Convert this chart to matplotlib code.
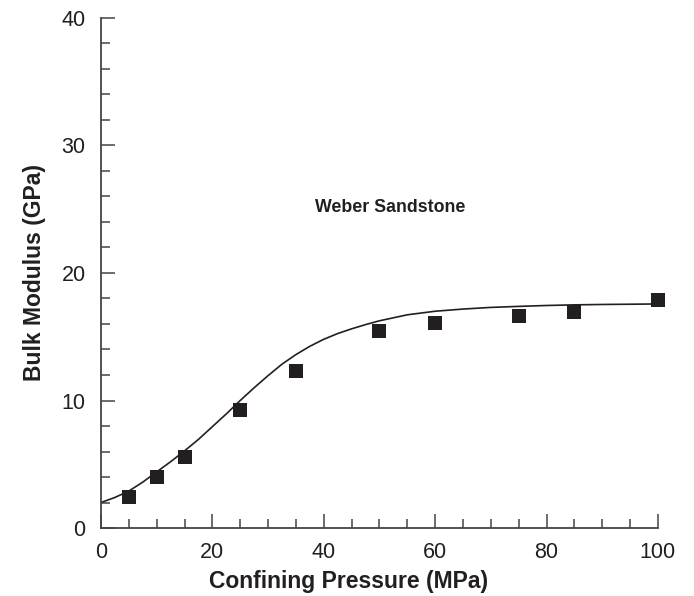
import numpy as np
import matplotlib.pyplot as plt
from matplotlib.ticker import MultipleLocator

plt.rcParams['font.family'] = ['Liberation Sans', 'DejaVu Sans']

# measured points
p_data = [5, 10, 15, 25, 35, 50, 60, 75, 85, 100]
k_data = [2.43, 4.0, 5.6, 9.25, 12.35, 15.45, 16.1, 16.6, 16.95, 17.9]

# fitted curve
p_fit = [0, 2.5, 5, 7.5, 10, 12.5, 15, 17.5, 20, 22.5, 25, 27.5, 30, 32.5, 35,
         37.5, 40, 42.5, 45, 47.5, 50, 55, 60, 65, 70, 75, 80, 85, 90, 95, 100]
k_fit = [2.0, 2.4, 2.9, 3.6, 4.4, 5.2, 6.05, 6.95, 7.95, 8.95, 10.0, 11.0, 11.95, 12.85, 13.6,
         14.25, 14.8, 15.25, 15.62, 15.95, 16.25, 16.72, 17.0, 17.17, 17.3, 17.38, 17.45, 17.5, 17.53, 17.55, 17.57]

fig = plt.figure(figsize=(6.94, 5.96), dpi=100)
ax = fig.add_axes([0.1455, 0.114, 0.8025, 0.856])

ax.plot(p_fit, k_fit, color='#231f20', lw=1.2)
ax.plot(p_data, k_data, 's', color='#231f20', ms=10, mew=0, clip_on=False, zorder=3)

ax.text(52, 25.1, 'Weber Sandstone', ha='center', va='center',
        fontsize=12.8, fontweight='bold', color='#231f20')

ax.set_xlim(0, 100)
ax.set_ylim(0, 40)
ax.xaxis.set_major_locator(MultipleLocator(20))
ax.xaxis.set_minor_locator(MultipleLocator(5))
ax.yaxis.set_major_locator(MultipleLocator(10))
ax.yaxis.set_minor_locator(MultipleLocator(2))
ax.tick_params(which='major', direction='in', length=10, width=1.1, color='#444444',
               labelsize=15.5, labelcolor='#231f20')
ax.tick_params(axis='y', which='major', pad=11)
ax.tick_params(axis='x', which='major', pad=10)
ax.tick_params(which='minor', direction='in', length=6.5, width=1.1, color='#444444')
for s in ['top', 'right']:
    ax.spines[s].set_visible(False)
for s in ['left', 'bottom']:
    ax.spines[s].set_color('#444444')
    ax.spines[s].set_linewidth(1.3)

ax.set_xlabel('Confining Pressure (MPa)', fontsize=16.5, fontweight='bold', color='#231f20')
ax.xaxis.set_label_coords(0.444, -0.082)
ax.set_ylabel('Bulk Modulus (GPa)', fontsize=16.5, fontweight='bold', color='#231f20', labelpad=11)

fig.savefig('out.png', dpi=100)
